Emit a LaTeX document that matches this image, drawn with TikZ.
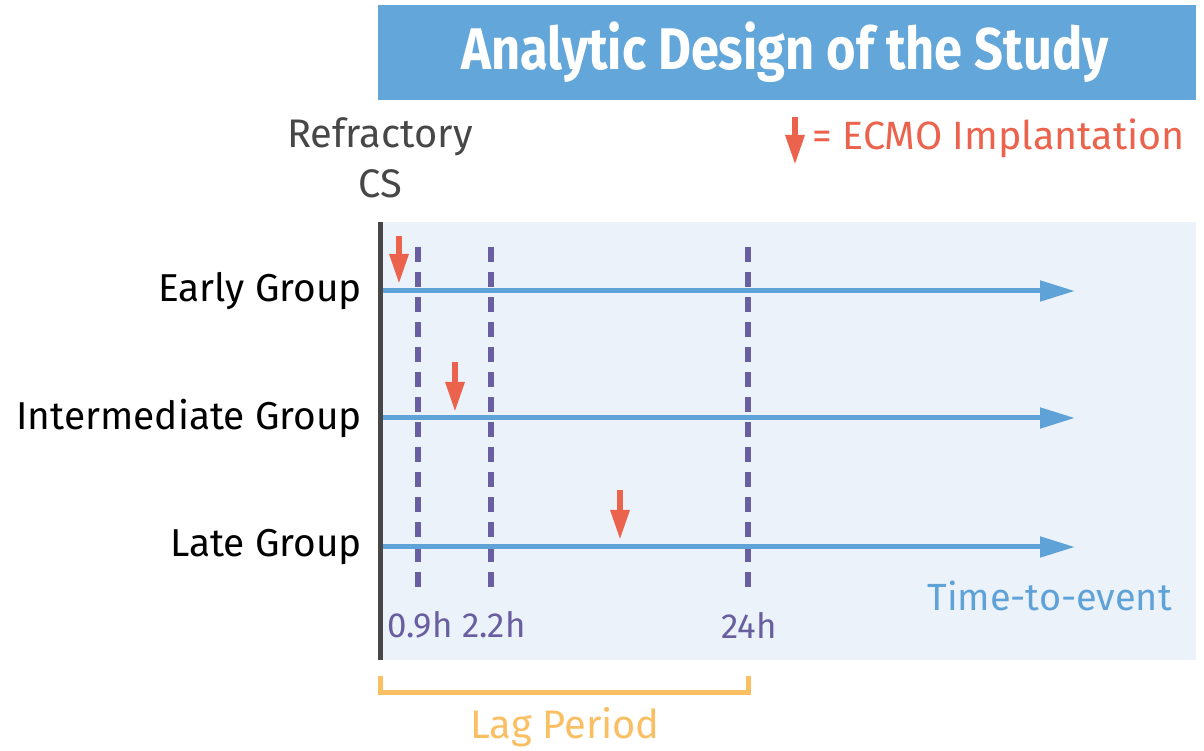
\documentclass[tikz,border=0pt]{standalone}
\usepackage{fontspec}
\setmainfont{Fira Sans}
\newfontfamily\titlefont[FakeStretch=0.86]{Fira Sans}
\usetikzlibrary{arrows.meta}
\definecolor{titleblue}{HTML}{63A6D9}
\definecolor{bgblue}{HTML}{EBF2FA}
\definecolor{axisgray}{HTML}{474747}
\definecolor{lineblue}{HTML}{5EA2D8}
\definecolor{dashpurple}{HTML}{685EA0}
\definecolor{ecmored}{HTML}{EC634D}
\definecolor{lagorange}{HTML}{FBBF63}
\tikzset{
  grouplabel/.style={anchor=east,inner sep=0pt,font=\fontsize{39}{43}\selectfont},
  hourlabel/.style={inner sep=0pt,text=dashpurple,font=\fontsize{35}{38}\selectfont},
  timeline/.style={lineblue,line width=5bp,-{Triangle[length=35bp,width=20bp]}},
  cutoff/.style={dashpurple,line width=6bp,dash pattern=on 15bp off 10bp},
  ecmo/.style={ecmored,line width=6bp,-{Triangle[length=30bp,width=18bp]}}
}
\begin{document}
\begin{tikzpicture}
  \useasboundingbox (0bp,0bp) rectangle (1204bp,751bp);
  %% title and background
  \fill[titleblue] (378bp,651bp) rectangle (1196bp,746bp);
  \node (title) at (785bp,699bp) [text=white,font=\titlefont\bfseries\fontsize{59}{63}\selectfont] {Analytic Design of the Study};
  \fill[bgblue] (378bp,91bp) rectangle (1196bp,529bp);
  \node (refr) at (380bp,614bp) [text=axisgray,font=\fontsize{40}{44}\selectfont] {Refractory};
  \node (cs) at (380bp,567bp) [text=axisgray,font=\fontsize{40}{44}\selectfont] {CS};
  %% legend
  \coordinate (lg0) at (795bp,634bp);
  \coordinate (lg1) at (795bp,586bp);
  \draw [ecmo] (lg0) -- (lg1);
  \node (legend) at (812bp,613bp) [anchor=west,inner sep=0pt,text=ecmored,font=\fontsize{39.6}{43}\selectfont] {= ECMO Implantation};
  %% cutoff lines
  \coordinate (c1a) at (418bp,504bp);
  \coordinate (c1b) at (418bp,161bp);
  \coordinate (c2a) at (491bp,504bp);
  \coordinate (c2b) at (491bp,161bp);
  \coordinate (c3a) at (748bp,504bp);
  \coordinate (c3b) at (748bp,161bp);
  \draw [cutoff] (c1a) -- (c1b);
  \draw [cutoff] (c2a) -- (c2b);
  \draw [cutoff] (c3a) -- (c3b);
  \node (h1) at (420bp,126bp) [hourlabel] {0.9h};
  \node (h2) at (494bp,126bp) [hourlabel] {2.2h};
  \node (h3) at (749bp,126bp) [hourlabel] {24h};
  %% groups
  \node (early) at (362bp,460bp) [grouplabel] {Early Group};
  \node (inter) at (362bp,333bp) [grouplabel] {Intermediate Group};
  \node (late) at (362bp,204bp) [grouplabel] {Late Group};
  \coordinate (e0) at (380bp,460bp);
  \coordinate (e1) at (1075bp,460bp);
  \coordinate (i0) at (380bp,333bp);
  \coordinate (i1) at (1075bp,333bp);
  \coordinate (l0) at (380bp,204bp);
  \coordinate (l1) at (1075bp,204bp);
  \draw [timeline] (e0) -- (e1);
  \draw [timeline] (i0) -- (i1);
  \draw [timeline] (l0) -- (l1);
  \node (tte) at (1172bp,155bp) [anchor=east,inner sep=0pt,text=lineblue,font=\fontsize{38}{42}\selectfont] {Time-to-event};
  %% ECMO arrows
  \coordinate (ea) at (399bp,515bp);
  \coordinate (eb) at (399bp,467bp);
  \coordinate (ia) at (455bp,389bp);
  \coordinate (ib) at (455bp,339bp);
  \coordinate (la) at (620bp,261bp);
  \coordinate (lb) at (620bp,211bp);
  \draw [ecmo] (ea) -- (eb);
  \draw [ecmo] (ia) -- (ib);
  \draw [ecmo] (la) -- (lb);
  %% axis
  \coordinate (ax0) at (380bp,529bp);
  \coordinate (ax1) at (380bp,91bp);
  \draw [axisgray,line width=5bp] (ax0) -- (ax1);
  %% lag period
  \coordinate (lag0) at (380bp,75bp);
  \coordinate (lag1) at (748bp,75bp);
  \draw [lagorange,line width=5bp] (lag0) -- ++(0bp,-17bp) -| (lag1);
  \node (lag) at (565bp,24bp) [text=lagorange,font=\fontsize{40}{44}\selectfont] {Lag Period};
  %
\end{tikzpicture}
\end{document}
